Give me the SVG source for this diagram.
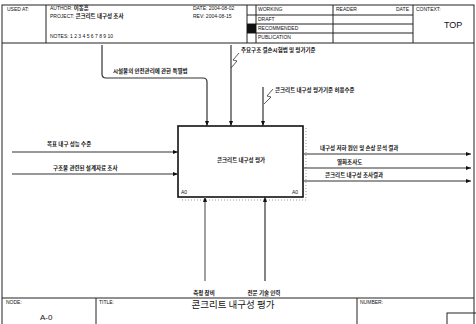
<svg xmlns="http://www.w3.org/2000/svg" width="476" height="324" viewBox="0 0 476 324">
<defs>
<style>
.f{fill:none;stroke:#222;stroke-width:1}
.t{font-family:"Liberation Sans","Noto Sans CJK KR",sans-serif;fill:#111}
.h{font-size:5px}
.k{font-family:"Noto Sans CJK KR","Liberation Sans",sans-serif;font-size:5.5px;font-weight:bold;fill:#111}
.a{fill:none;stroke:#333;stroke-width:1.2}
.g{fill:none;stroke:#888;stroke-width:1.6}
.s{fill:none;stroke:#333;stroke-width:0.8}
</style>
<marker id="ah" viewBox="0 0 10 10" refX="10" refY="5" markerWidth="5" markerHeight="5" orient="auto" markerUnits="userSpaceOnUse">
<path d="M0,1 L10,5 L0,9 Z" fill="#111"/>
</marker>
</defs>
<rect x="0" y="0" width="476" height="324" fill="#fff"/>

<g id="frame">
<rect class="f" x="2" y="5" width="472" height="330"/>
<line class="f" x1="2" y1="43" x2="474" y2="43"/>
<line class="f" x1="46" y1="5" x2="46" y2="43"/>
<line class="f" x1="247" y1="5" x2="247" y2="43"/>
<line class="f" x1="256" y1="5" x2="256" y2="43"/>
<line class="f" x1="333" y1="5" x2="333" y2="43"/>
<line class="f" x1="413" y1="5" x2="413" y2="43"/>
<line class="f" x1="247" y1="15" x2="413" y2="15"/>
<line class="f" x1="247" y1="24" x2="413" y2="24"/>
<line class="f" x1="247" y1="33" x2="413" y2="33"/>
<rect x="247" y="24" width="9" height="9" fill="#111"/>
<text class="t h" x="7" y="11">USED AT:</text>
<text class="t h" x="50" y="10"><tspan>AUTHOR:</tspan><tspan class="k"> 이동훈</tspan></text>
<text class="t h" x="50" y="18"><tspan>PROJECT:</tspan><tspan class="k"> 콘크리트 내구성 조사</tspan></text>
<text class="t h" x="50" y="38">NOTES: 1 2 3 4 5 6 7 8 9 10</text>
<text class="t h" x="193" y="10">DATE: 2004-08-02</text>
<text class="t h" x="193" y="18">REV: 2004-08-15</text>
<text class="t h" x="258" y="11">WORKING</text>
<text class="t h" x="258" y="21">DRAFT</text>
<text class="t h" x="258" y="30">RECOMMENDED</text>
<text class="t h" x="258" y="39">PUBLICATION</text>
<text class="t h" x="336" y="11">READER</text>
<text class="t h" x="396" y="11">DATE</text>
<text class="t h" x="416" y="11">CONTEXT:</text>
<text class="t" x="444" y="28" font-size="9">TOP</text>
<line class="f" x1="2" y1="298" x2="474" y2="298"/>
<line class="f" x1="96" y1="298" x2="96" y2="324"/>
<line class="f" x1="357" y1="298" x2="357" y2="324"/>
<rect class="f" x="447" y="313" width="30" height="14"/>
<text class="t h" x="6" y="304">NODE:</text>
<text class="t" x="40" y="320" font-size="8">A-0</text>
<text class="t h" x="99" y="304">TITLE:</text>
<text class="t h" x="360" y="304">NUMBER:</text>
<text x="233" y="308" text-anchor="middle" font-family="Noto Sans CJK KR, sans-serif" font-size="9.5" fill="#111">콘크리트 내구성 평가</text>
</g>

<g id="A0">
<path d="M306,128 V200 H180" fill="none" stroke="#999" stroke-width="1" stroke-dasharray="1,2"/>
<rect x="178" y="126" width="125" height="71" fill="#fff" stroke="#111" stroke-width="1.6"/>
<text class="k" x="241" y="162" text-anchor="middle" font-size="6">콘크리트 내구성 평가</text>
<text class="t h" x="181" y="194">A0</text>
<text class="t h" x="292" y="194">A0</text>
</g>

<g id="connectors">
<path class="a" d="M102,45 V74 Q102,78 106,78 H203 Q207,78 207,82 V126" marker-end="url(#ah)"/>
<path class="a" d="M231,45 V126" marker-end="url(#ah)"/>
<path class="a" d="M263,87 V126" marker-end="url(#ah)"/>
<path class="s" d="M239,53 L233,60 L237,61 L231,68"/>
<path class="s" d="M273,89 L267,96 L271,97 L264,104"/>
<path class="a" d="M12,152 H178" marker-end="url(#ah)"/>
<path class="a" d="M12,174 H178" marker-end="url(#ah)"/>
<path class="a" d="M303,154 H471" marker-end="url(#ah)"/>
<path class="a" d="M303,168 H471" marker-end="url(#ah)"/>
<path class="a" d="M303,181 H471" marker-end="url(#ah)"/>
<path class="g" d="M205,281 V197" marker-end="url(#ah)"/>
<path class="a" d="M265,281 V197" marker-end="url(#ah)"/>
</g>

<g id="labels">
<text class="k" x="113" y="73">시설물의 안전관리에 관한 특별법</text>
<text class="k" x="241" y="52">주요구조 결손시험법 및 평가기준</text>
<text class="k" x="275" y="92">콘크리트 내구성 평가기준 허용수준</text>
<text class="k" x="47" y="146">목표 내구 성능 수준</text>
<text class="k" x="53" y="170">구조물 관련된 설계자료 조사</text>
<text class="k" x="320" y="150">내구성 저하 원인 및 손상 분석 결과</text>
<text class="k" x="337" y="164">열화조사도</text>
<text class="k" x="325" y="177">콘크리트 내구성 조사결과</text>
<text class="k" x="204" y="295" text-anchor="middle">측정 장비</text>
<text class="k" x="264" y="295" text-anchor="middle">전문 기술 인력</text>
</g>
</svg>
